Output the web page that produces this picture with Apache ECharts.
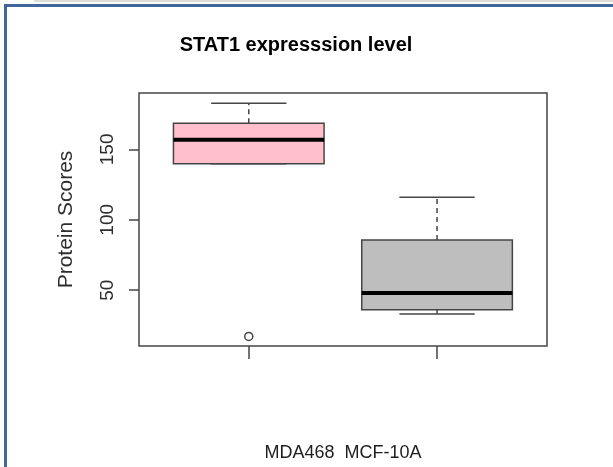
<!DOCTYPE html>
<html>
<head>
<meta charset="utf-8">
<style>
  html, body { margin: 0; padding: 0; background: #ffffff; }
  #chart { width: 613px; height: 467px; }
</style>
<script src="https://cdn.jsdelivr.net/npm/echarts@6/dist/echarts.min.js"></script>
</head>
<body>
<div id="chart"></div>
<script>
// Cell lines and their box statistics (protein scores)
const categories = ['MDA468', 'MCF-10A'];
const lowerWhisker = [139.8, 33.2];
const q1 = [139.8, 36.1];
const median = [156.8, 48.1];
const q3 = [168.6, 85.6];
const upperWhisker = [182.7, 116.0];
// Outliers as [category index, score]
const outliers = [[0, 17.2]];
const fills = ['#FFC0CB', '#BEBEBE'];
const yTicks = [50, 100, 150];

const boxData = categories.map((c, i) => [i + 1, lowerWhisker[i], q1[i], median[i], q3[i], upperWhisker[i]]);
const outlierData = outliers.map(o => [o[0] + 1, o[1]]);

const stroke = '#454545';
const font = '"Liberation Sans", Arial, sans-serif';

function renderBox(params, api) {
  const x = api.value(0);
  const lo = api.coord([x, api.value(1)]);
  const b1 = api.coord([x, api.value(2)]);
  const md = api.coord([x, api.value(3)]);
  const b3 = api.coord([x, api.value(4)]);
  const hi = api.coord([x, api.value(5)]);
  const boxW = api.size([0.8, 0])[0];
  const capW = api.size([0.4, 0])[0];
  const cx = lo[0];
  const fill = fills[params.dataIndex];
  return {
    type: 'group',
    children: [
      { type: 'line', shape: { x1: cx, y1: b3[1], x2: cx, y2: hi[1] },
        style: { stroke: stroke, lineWidth: 1.5, lineDash: [5, 4] } },
      { type: 'line', shape: { x1: cx, y1: b1[1], x2: cx, y2: lo[1] },
        style: { stroke: stroke, lineWidth: 1.5, lineDash: [5, 4] } },
      { type: 'line', shape: { x1: cx - capW / 2, y1: hi[1], x2: cx + capW / 2, y2: hi[1] },
        style: { stroke: stroke, lineWidth: 1.5 } },
      { type: 'line', shape: { x1: cx - capW / 2, y1: lo[1], x2: cx + capW / 2, y2: lo[1] },
        style: { stroke: stroke, lineWidth: 1.5 } },
      { type: 'rect', shape: { x: cx - boxW / 2, y: b3[1], width: boxW, height: b1[1] - b3[1] },
        style: { fill: fill, stroke: stroke, lineWidth: 1.5 } },
      { type: 'line', shape: { x1: cx - boxW / 2, y1: md[1], x2: cx + boxW / 2, y2: md[1] },
        style: { stroke: '#000000', lineWidth: 4 } }
    ]
  };
}

const chart = echarts.init(document.getElementById('chart'), null, { renderer: 'canvas' });
chart.setOption({
  animation: false,
  backgroundColor: '#ffffff',
  title: {
    text: 'STAT1 expresssion level',
    left: 291, top: 30, textAlign: 'center',
    textStyle: { fontFamily: font, fontSize: 20, fontWeight: 'bold', color: '#000000' }
  },
  graphic: [
    { type: 'rect', silent: true, shape: { x: 34, y: 0, width: 579, height: 2 }, style: { fill: '#dcdcdc' } },
    { type: 'rect', silent: true, shape: { x: 4, y: 4, width: 609, height: 3 }, style: { fill: '#41679a' } },
    { type: 'rect', silent: true, shape: { x: 4, y: 4, width: 3, height: 463 }, style: { fill: '#41679a' } }
  ],
  grid: {
    left: 139, right: 66, top: 93, bottom: 120,
    show: true, borderColor: stroke, borderWidth: 1.5, backgroundColor: 'transparent'
  },
  xAxis: {
    type: 'value', min: 0.417, max: 2.584,
    name: 'MDA468  MCF-10A', nameLocation: 'middle', nameGap: 98,
    nameTextStyle: { fontFamily: font, fontSize: 18, color: '#1e1e1e' },
    axisLine: { show: false },
    axisTick: { show: true, customValues: [1, 2], length: 13, lineStyle: { color: stroke, width: 1.5 } },
    axisLabel: { show: false },
    splitLine: { show: false }
  },
  yAxis: {
    type: 'value', min: 10.4, max: 190,
    name: 'Protein Scores', nameLocation: 'middle', nameGap: 62, nameRotate: 90,
    nameTextStyle: { fontFamily: font, fontSize: 21, color: '#2e2e2e' },
    axisLine: { show: false },
    axisTick: { show: true, customValues: yTicks, length: 10, lineStyle: { color: stroke, width: 1.5 } },
    axisLabel: { show: true, customValues: yTicks, rotate: 90, margin: 22,
      fontFamily: font, fontSize: 19, color: '#2e2e2e' },
    splitLine: { show: false }
  },
  series: [
    { type: 'custom', renderItem: renderBox, data: boxData, clip: false, z: 2 },
    { type: 'scatter', data: outlierData, symbol: 'circle', symbolSize: 8,
      itemStyle: { color: '#ffffff', borderColor: stroke, borderWidth: 1.5, opacity: 1 }, z: 3 }
  ]
});
</script>
</body>
</html>
